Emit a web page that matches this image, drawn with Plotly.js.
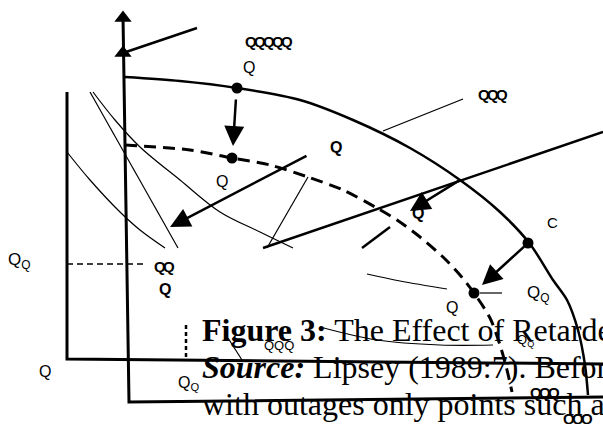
<!DOCTYPE html>
<html><head><meta charset="utf-8">
<script src="https://cdn.plot.ly/plotly-3.0.1.min.js"></script>
<style>html,body{margin:0;padding:0;background:#fff}#c{width:603px;height:424px}</style>
</head><body><div id="c"></div>
<script>
// Outer production-possibility frontier (solid)
const outerX = [125,180,237,300,353,410,460,500,530,553,567,578,585,588];
const outerY = [77,81,88,100,120,148,180,212,244,280,300,330,365,395];
// Inner frontier (dashed)
const innerX = [125,190,232,270,308,343,377,397,420,443,460,474,490,500,507,512];
const innerY = [145,150,158,165,177,190,208,220,237,257,275,293,318,345,370,392];
// Points on the frontiers
const dotX = [237,232,528,474];
const dotY = [88,158,243,293];
// Frame A (left axes)
const frameAX = [67,67,603];
const frameAY = [92,359,364];
// Frame B (main axes)
const frameBX = [123,129,603];
const frameBY = [16,402,397];
// Thin curves and lines
const curve1X = [67,90,120,140,165];
const curve1Y = [152,180,212,230,248];
const line2X = [90,178];
const line2Y = [92,248];
const curve3X = [93,115,140,180,220,260,293];
const curve3Y = [92,120,147,180,212,232,248];
const line4X = [308,267];
const line4Y = [177,248];
const line5X = [383,463];
const line5Y = [131,99];
const curve6X = [367,400,447];
const curve6Y = [274,281,289];
const line7X = [480,502];
const line7Y = [293,293];
const curve8X = [320,377,440,493];
const curve8Y = [327,340,345,345];
const line9X = [228,242];
const line9Y = [338,360];
// Thick straight lines
const thickAX = [123,197];
const thickAY = [53,28];
const thickBX = [263,603];
const thickBY = [248,132];
const thickCX = [390,362];
const thickCY = [227,248];
// Guide lines
const hDashX = [67,143];
const hDashY = [264,264];
const vDotX = [186,186];
const vDotY = [325,360];
// Arrows: tail -> tip
const arrowTailX = [236,308,460,527];
const arrowTailY = [98,155,180,244];
const arrowTipX = [233,170,410,482];
const arrowTipY = [146,227,211,285];
// Arrowheads on the vertical axis (tip positions)
const axHeadX = [123,123];
const axHeadY = [13,48];
// Labels
const labelText = ["Q","Q","Q","Q","C","Q<sub>Q</sub>","Q","Q<sub>Q</sub>","Q","Q","Q<sub>Q</sub>","QQQ","Q<sub>Q</sub>"];
const labelX = [249,222,336,418,552,538,452,19,165,45,188,279,525];
const labelY = [67,181,147,213,222,294,307,261,289,371,383,345,340];
const labelBold = [0,0,1,1,0,0,0,0,1,0,0,0,0];
const labelSize = [16,16,16,16,15,17,16,17,16,16,16,13,13];
// Overlapping garbled glyph clusters
const clusterX = [251,484,160,536,569];
const clusterY = [41,94,266,392,418];
const clusterN = [5,3,2,3,3];
// Caption text lines
const captionLines = [
  "<b>Figure 3:</b> The Effect of Retarded Growth",
  "<b><i>Source:</i></b> Lipsey (1989:7). Before growth",
  "with outages only points such as"
];
const captionY = [330,367,404];

const traces = [];
function ln(x,y,w,opts){
  traces.push(Object.assign({x:x,y:y,mode:'lines',type:'scatter',hoverinfo:'skip',
    line:Object.assign({color:'#000',width:w},opts||{})}));
}
ln(frameAX,frameAY,3);
ln(frameBX,frameBY,3);
ln(outerX,outerY,2.5,{shape:'spline',smoothing:0.8});
ln(innerX,innerY,3,{shape:'spline',smoothing:0.8,dash:'12px,7px'});
ln(curve1X,curve1Y,1.2,{shape:'spline'});
ln(line2X,line2Y,1.2);
ln(curve3X,curve3Y,1.2,{shape:'spline'});
ln(line4X,line4Y,1.2);
ln(line5X,line5Y,1.2);
ln(curve6X,curve6Y,1.2,{shape:'spline'});
ln(line7X,line7Y,1.2);
ln(curve8X,curve8Y,1.2,{shape:'spline'});
ln(line9X,line9Y,1.2);
ln(thickAX,thickAY,2.5);
ln(thickBX,thickBY,2.5);
ln(thickCX,thickCY,2.5);
ln(hDashX,hDashY,1.5,{dash:'6px,4px'});
ln(vDotX,vDotY,2.5,{dash:'4px,3px'});
traces.push({x:dotX,y:dotY,mode:'markers',type:'scatter',hoverinfo:'skip',
  marker:{color:'#000',size:11,symbol:'circle'}});
traces.push({x:axHeadX,y:axHeadY.map(v=>v+5),mode:'markers',type:'scatter',hoverinfo:'skip',
  marker:{color:'#000',size:15,symbol:'triangle-up'}});

const ann = [];
for(let i=0;i<arrowTipX.length;i++){
  ann.push({x:arrowTipX[i],y:arrowTipY[i],ax:arrowTailX[i],ay:arrowTailY[i],
    xref:'x',yref:'y',axref:'x',ayref:'y',text:'',showarrow:true,
    arrowhead:2,arrowsize:1.6,arrowwidth:2.5,arrowcolor:'#000',standoff:0});
}
for(let i=0;i<labelText.length;i++){
  ann.push({x:labelX[i],y:labelY[i],xref:'x',yref:'y',text:labelText[i],showarrow:false,
    xanchor:'center',yanchor:'middle',
    font:{family:'Liberation Sans, Arial',size:labelSize[i],color:'#000',weight:labelBold[i]?'bold':'normal'}});
}
for(let i=0;i<clusterX.length;i++){
  for(let k=0;k<clusterN[i];k++){
    ann.push({x:clusterX[i]+k*9,y:clusterY[i],xref:'x',yref:'y',text:'Q',showarrow:false,
      xanchor:'center',yanchor:'middle',
      font:{family:'Liberation Sans, Arial',size:15,color:'#000',weight:'bold'}});
  }
}
for(let i=0;i<captionLines.length;i++){
  ann.push({x:200,y:captionY[i],xref:'x',yref:'y',text:captionLines[i],showarrow:false,
    xanchor:'left',yanchor:'middle',
    font:{family:'Liberation Serif, Times New Roman',size:32,color:'#000'}});
}

const layout = {
  width:603,height:424,margin:{l:0,r:0,t:0,b:0},
  paper_bgcolor:'#fff',plot_bgcolor:'#fff',showlegend:false,
  xaxis:{range:[0,603],visible:false,fixedrange:true},
  yaxis:{range:[424,0],visible:false,fixedrange:true},
  annotations:ann
};
Plotly.newPlot('c',traces,layout,{staticPlot:true,displayModeBar:false});
</script></body></html>
